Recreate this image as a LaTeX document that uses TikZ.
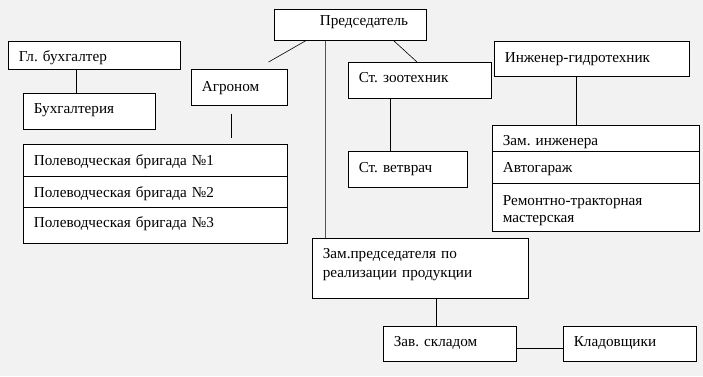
\documentclass[tikz,border=0pt]{standalone}
\usepackage{fontspec}
\setmainfont{Liberation Serif}
\usetikzlibrary{positioning,calc}
\definecolor{pagegrey}{HTML}{F2F2F2}
\definecolor{trunkgrey}{HTML}{555555}
\frenchspacing

\begin{document}
\begin{tikzpicture}[
  x=1pt, y=-1pt,
  font=\fontsize{15.2}{19}\selectfont,
  post/.style={
    draw=black, line width=0.6pt, fill=white, anchor=north west,
    inner xsep=10.5pt, inner ysep=0pt, align=left, text height=20pt},
  link/.style={draw=black, line width=0.6pt},
  trunk/.style={draw=trunkgrey, line width=1pt},
]

\fill[pagegrey] (0,0) rectangle (703,376);
\useasboundingbox (0,0) rectangle (703,376);

% ================= head ============================================
\node[post, text width=131pt, text height=16pt, text depth=15pt] (chair) at (274,9)
  {\hspace*{35pt}Председатель};

% ================= left branch =====================================
\node[post, text width=151pt, text depth=8pt] (glbuh) at (8,41) {Гл. бухгалтер};
\node[post, text width=111pt, text depth=16pt] (buh) at (23,93) {Бухгалтерия};
\node[post, text width=75pt, text height=22pt, text depth=14pt] (agron) at (191,69) {Агроном};

\node[post, text width=243pt, text height=21pt, text depth=11pt] (brig1) at (23,144)
  {Полеводческая бригада №1};
\node[post, text width=243pt, text height=21pt, text depth=10pt] (brig2) at (23,176)
  {Полеводческая бригада №2};
\node[post, text width=243pt, text depth=16pt] (brig3) at (23,207)
  {Полеводческая бригада №3};

% ================= middle branch ===================================
\node[post, text width=122pt, text depth=16pt] (zoot) at (348,62) {Ст. зоотехник};
\node[post, text width=98pt, text height=21pt, text depth=15pt] (vet) at (348,151) {Ст. ветврач};

\node[post, text width=195pt, text depth=40pt] (zampred) at (312,238)
  {Зам.председателя по\\реализации продукции};
\node[post, text width=112pt, text depth=15pt] (sklad) at (383,326) {Зав. складом};
\node[post, text width=112pt, text depth=15pt] (klad) at (563,326) {Кладовщики};

% ================= right branch ====================================
\node[post, text width=174pt, text height=21pt, text depth=14pt] (eng) at (494,41)
  {Инженер-гидротехник};
\node[post, text width=186pt, text depth=6pt] (zaminzh) at (492,125) {Зам. инженера};
\node[post, text width=186pt, text height=21pt, text depth=11pt] (garage) at (492,151)
  {Автогараж};
\node[post, text width=186pt, text height=22pt, text depth=26pt] (rtm) at (492,183)
  {Ремонтно-тракторная\\[-2pt]мастерская};

% ================= relations =======================================
\draw[link] ([xshift=32pt]chair.south west) -- ([xshift=-19pt,yshift=7pt]agron.north east);
\draw[link] ([xshift=-33pt]chair.south east) -- ([xshift=69pt]zoot.north west);
\draw[trunk] ([xshift=13pt]zampred.north west) -- ([xshift=13pt]zampred.north west |- chair.south);

\draw[link] ([xshift=53pt]buh.north west) -- ([xshift=53pt]buh.north west |- glbuh.south);
% the agronomist's line stops short of both boxes
\draw[link] ([xshift=40pt,yshift=-8pt]agron.south west) -- ([xshift=208pt,yshift=6pt]brig1.north west);

\draw[link] ([xshift=42pt]zoot.south west) -- ([xshift=42pt]zoot.south west |- vet.north);
\draw[link] ([xshift=82pt]eng.south west) -- ([xshift=82pt]eng.south west |- zaminzh.north);
\draw[link] ([xshift=124pt]zampred.south west) -- ([xshift=124pt]zampred.south west |- sklad.north);
\draw[link] ([yshift=-4pt]sklad.east) -- ([yshift=-4pt]klad.west);

\end{tikzpicture}
\end{document}
